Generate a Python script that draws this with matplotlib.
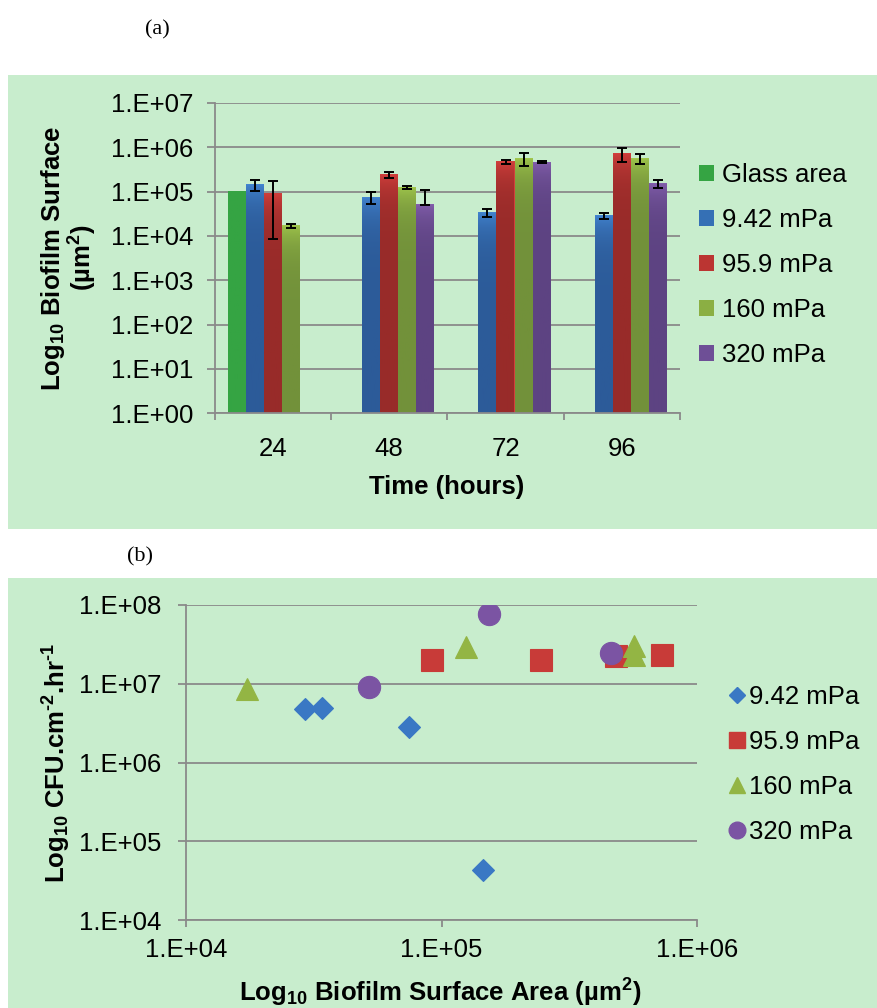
import numpy as np
import matplotlib
matplotlib.use("Agg")
import matplotlib.pyplot as plt
from matplotlib.patches import Rectangle, Patch
from matplotlib.lines import Line2D
from matplotlib.colors import LinearSegmentedColormap

plt.rcParams['font.family'] = ['Liberation Sans', 'DejaVu Sans']
plt.rcParams['mathtext.fontset'] = 'custom'
plt.rcParams['mathtext.rm'] = 'Liberation Sans:bold'
plt.rcParams['mathtext.it'] = 'Liberation Sans:bold'
plt.rcParams['mathtext.bf'] = 'Liberation Sans:bold'
plt.rcParams['mathtext.default'] = 'rm'

# ---------------- data ----------------
hours = ['24', '48', '72', '96']
series_names = ['Glass area', '9.42 mPa', '95.9 mPa', '160 mPa', '320 mPa']
nan = np.nan
glass_area = [1.05e5, nan, nan, nan]
area_942 = [1.46e5, 7.45e4, 3.42e4, 2.92e4]
area_959 = [9.2e4, 2.46e5, 4.83e5, 7.32e5]
area_160 = [1.74e4, 1.25e5, 5.65e5, 5.65e5]
area_320 = [nan, 5.18e4, 4.59e5, 1.54e5]

err_minus_942 = [4.3e4, 2.18e4, 7.8e3, 5.0e3]
err_plus_942 = [4.1e4, 2.35e4, 5.8e3, 3.3e3]
err_minus_959 = [8.36e4, 4.3e4, 5.4e4, 2.65e5]
err_plus_959 = [8.2e4, 3.2e4, 4.4e4, 2.34e5]
err_minus_160 = [2.5e3, 1.2e4, 1.93e5, 1.36e5]
err_plus_160 = [1.3e3, 9.0e3, 1.8e5, 1.55e5]
err_minus_320 = [nan, 2.6e3, 2.3e4, 3.1e4]
err_plus_320 = [nan, 5.52e4, 2.4e4, 2.6e4]

# CFU production rate (per time point 24,48,72,96 h)
cfu_942 = [4.37e4, 2.82e6, 4.92e6, 4.78e6]
cfu_959 = [2.0e7, 2.0e7, 2.26e7, 2.3e7]
cfu_160 = [8.55e6, 2.94e7, 2.3e7, 3.0e7]
cfu_320 = [nan, 9.0e6, 2.47e7, 7.62e7]

bar_ticks = ['1.E+00', '1.E+01', '1.E+02', '1.E+03', '1.E+04', '1.E+05', '1.E+06', '1.E+07']
sc_yticks = ['1.E+04', '1.E+05', '1.E+06', '1.E+07', '1.E+08']
sc_xticks = ['1.E+04', '1.E+05', '1.E+06']

# ---------------- styling ----------------
W, H = 877, 1008
PANEL = '#C8EDCD'
GRID = '#8A8A8A'
FS = 18.5

def fx(x):
    return x / W

def fy(y):
    return 1 - y / H

fig = plt.figure(figsize=(W / 100, H / 100), dpi=100)
fig.patch.set_facecolor('white')
fig.patches.append(Rectangle((fx(8), fy(529)), 1 - fx(8), fy(75) - fy(529),
                             transform=fig.transFigure, facecolor=PANEL, edgecolor='none', zorder=-10))
fig.patches.append(Rectangle((fx(8), 0), 1 - fx(8), fy(578),
                             transform=fig.transFigure, facecolor=PANEL, edgecolor='none', zorder=-10))

fig.text(fx(157), fy(30), '(a)', ha='center', va='center', fontsize=16, family='Liberation Serif')
fig.text(fx(140), fy(557), '(b)', ha='center', va='center', fontsize=16, family='Liberation Serif')


def style_axes(ax):
    ax.patch.set_alpha(0)
    for s in ['top', 'right']:
        ax.spines[s].set_visible(False)
    for s in ['left', 'bottom']:
        ax.spines[s].set_color(GRID)
        ax.spines[s].set_linewidth(1.3)
    ax.grid(axis='y', which='major', color=GRID, linewidth=1.3)
    ax.set_axisbelow(True)
    ax.tick_params(which='both', color=GRID, width=1.3, labelsize=FS)


# ---------------- (a) bar chart ----------------
ax1 = fig.add_axes([fx(214.7), fy(413.3), fx(680) - fx(214.7), fy(103) - fy(413.3)])
style_axes(ax1)
ax1.set_yscale('log')

top_cols = ['#35A443', '#4284D0', '#D23F3C', '#A0C64C', '#825EAB']
bot_cols = ['#35A443', '#2C5B99', '#982B29', '#72913A', '#5D4382']
values = [glass_area, area_942, area_959, area_160, area_320]
err_m = [None, err_minus_942, err_minus_959, err_minus_160, err_minus_320]
err_p = [None, err_plus_942, err_plus_959, err_plus_160, err_plus_320]

x = np.arange(len(hours))
bw = 0.155
ymin, ymax = 1, 1e7
for i, vals in enumerate(values):
    pos = x + (i - 2) * bw
    bars = ax1.bar(pos, vals, width=bw, color=top_cols[i], edgecolor='none', zorder=2)
    cmap = LinearSegmentedColormap.from_list('g%d' % i, [bot_cols[i], top_cols[i]])
    grad = np.linspace(0, 1, 256).reshape(-1, 1)
    for r, v in zip(bars, vals):
        if np.isnan(v):
            continue
        ax1.imshow(grad, extent=[r.get_x(), r.get_x() + r.get_width(), ymin, v],
                   origin='lower', aspect='auto', cmap=cmap, zorder=2.1, interpolation='bilinear')
    if err_m[i] is not None:
        ax1.errorbar(pos, vals, yerr=[err_m[i], err_p[i]], fmt='none', ecolor='black',
                     elinewidth=1.4, capsize=3.6, capthick=1.4, zorder=3)

ax1.set_xlim(-0.5, 3.5)
ax1.set_ylim(ymin, ymax)
ax1.set_yticks([10.0 ** k for k in range(8)])
ax1.set_yticklabels(bar_ticks)
ax1.yaxis.set_minor_locator(matplotlib.ticker.NullLocator())
ax1.tick_params(axis='y', which='major', length=5.5, pad=10)
ax1.set_xticks(x)
ax1.set_xticklabels(hours)
ax1.set_xticks(np.arange(-0.5, 3.6, 1.0), minor=True)
ax1.tick_params(axis='x', which='major', length=0, pad=17)
ax1.tick_params(axis='x', which='minor', length=5, direction='out')

fig.text(fx(447), fy(487), 'Time (hours)', ha='center', va='center', fontsize=FS, fontweight='bold')
fig.text(fx(69), fy(258), 'Log$_{10}$ Biofilm Surface\n(µm$^{2}$)', ha='center', va='center',
         rotation=90, fontsize=FS, fontweight='bold', linespacing=1.0, multialignment='center')

leg_handles = [Patch(facecolor=c, edgecolor='none') for c in
               ['#35A443', '#3570B5', '#BB3532', '#8BAF43', '#6E4F96']]
fig.legend(leg_handles, series_names, loc='upper left', bbox_to_anchor=(fx(699), fy(163)),
           frameon=False, fontsize=FS, handlelength=0.6, handleheight=0.6, handletextpad=0.3,
           labelspacing=0.82, borderpad=0, borderaxespad=0)

# ---------------- (b) scatter ----------------
ax2 = fig.add_axes([fx(186), fy(920), fx(697) - fx(186), fy(605) - fy(920)])
style_axes(ax2)
ax2.set_xscale('log')
ax2.set_yscale('log')

sc_series = [
    (area_942, cfu_942, 'D', 11, '#3A78C4', '9.42 mPa'),
    (area_959, cfu_959, 's', 16, '#C83B38', '95.9 mPa'),
    (area_160, cfu_160, '^', 16, '#93B544', '160 mPa'),
    (area_320, cfu_320, 'o', 16, '#7B54A3', '320 mPa'),
]
handles2 = []
for xs, ys, m, ms, c, lab in sc_series:
    ax2.plot(xs, ys, linestyle='none', marker=m, markersize=ms, color=c,
             markeredgecolor=c, markeredgewidth=0.8, zorder=3)
    handles2.append(Line2D([], [], linestyle='none', marker=m, markersize=ms * 0.75, color=c,
                           markeredgecolor=c))

ax2.set_xlim(1e4, 1e6)
ax2.set_ylim(1e4, 1e8)
ax2.set_yticks([10.0 ** k for k in range(4, 9)])
ax2.set_yticklabels(sc_yticks)
ax2.set_xticks([1e4, 1e5, 1e6])
ax2.set_xticklabels(sc_xticks)
ax2.xaxis.set_minor_locator(matplotlib.ticker.NullLocator())
ax2.yaxis.set_minor_locator(matplotlib.ticker.NullLocator())
ax2.tick_params(axis='y', which='major', length=5.5, pad=12)
ax2.tick_params(axis='x', which='major', length=5, pad=8)

fig.text(fx(440), fy(993), 'Log$_{10}$ Biofilm Surface Area (µm$^{2}$)', ha='center', va='center',
         fontsize=FS, fontweight='bold')
fig.text(fx(57), fy(763), 'Log$_{10}$ CFU.cm$^{\u2010 2}$.hr$^{\u2010 1}$', ha='center', va='center',
         rotation=90, fontsize=FS, fontweight='bold')

fig.legend(handles2, [s[5] for s in sc_series], loc='upper left', bbox_to_anchor=(fx(727), fy(685)),
           frameon=False, fontsize=FS, handlelength=0.8, handletextpad=0.05,
           labelspacing=0.82, borderpad=0, borderaxespad=0)

fig.savefig('out.png', dpi=100, facecolor='white')
